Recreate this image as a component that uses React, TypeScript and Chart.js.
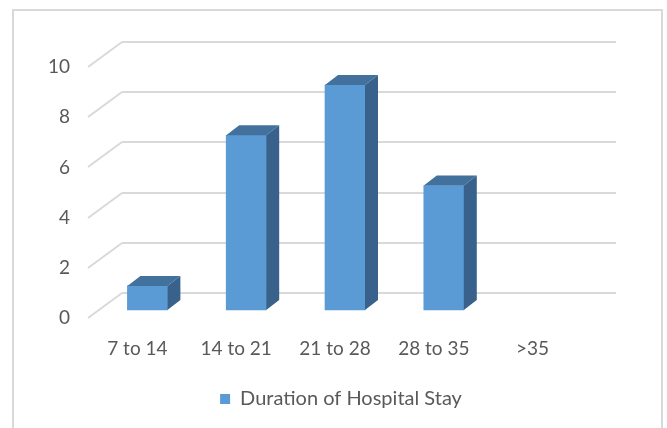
import React, { useEffect, useRef } from 'react';
import { Chart, registerables } from 'chart.js';

Chart.register(...registerables);

// ---- data ----
const categories = ['7 to 14', '14 to 21', '21 to 28', '28 to 35', '>35'];
const stayCounts = [1, 7, 9, 5, 0];
const seriesName = 'Duration of Hospital Stay';
const yMin = 0;
const yMax = 10;
const yStep = 2;

// ---- style ----
const FRONT = '#5B9BD5';
const TOP = '#41719C';
const SIDE = '#38628C';
const GRID = '#D9D9D9';
const TEXT = '#595959';
const FONT = "Lato, 'Open Sans', sans-serif";
const WALL_DX = -34;
const WALL_DY = 25;
const BAR_DX = -24;
const BAR_DY = 18;
const DEPTH_X = 13;
const DEPTH_Y = -10;

const pseudo3d = {
  id: 'pseudo3d',
  beforeDatasetsDraw(chart: any) {
    const { ctx, chartArea, scales } = chart;
    const ys = scales.y;
    ctx.save();
    ctx.strokeStyle = GRID;
    ctx.lineWidth = 2;
    ys.ticks.forEach((t: any) => {
      const py = Math.round(ys.getPixelForValue(t.value));
      ctx.beginPath();
      ctx.moveTo(chartArea.left, py);
      ctx.lineTo(chartArea.left + WALL_DX, py + WALL_DY);
      ctx.stroke();
    });
    ctx.restore();
    ctx.save();
    ctx.translate(BAR_DX, BAR_DY);
  },
  afterDatasetsDraw(chart: any) {
    const { ctx } = chart;
    ctx.restore();
    const meta = chart.getDatasetMeta(0);
    const data = chart.data.datasets[0].data;
    meta.data.forEach((bar: any, i: number) => {
      if (!data[i]) return;
      const { x, y, base, width } = bar.getProps(['x', 'y', 'base', 'width'], true);
      const l = x - width / 2 + BAR_DX;
      const r = x + width / 2 + BAR_DX;
      const t = y + BAR_DY;
      const b = base + BAR_DY;
      ctx.save();
      ctx.fillStyle = TOP;
      ctx.beginPath();
      ctx.moveTo(l, t);
      ctx.lineTo(l + DEPTH_X, t + DEPTH_Y);
      ctx.lineTo(r + DEPTH_X, t + DEPTH_Y);
      ctx.lineTo(r, t);
      ctx.closePath();
      ctx.fill();
      ctx.fillStyle = SIDE;
      ctx.beginPath();
      ctx.moveTo(r, t);
      ctx.lineTo(r + DEPTH_X, t + DEPTH_Y);
      ctx.lineTo(r + DEPTH_X, b + DEPTH_Y);
      ctx.lineTo(r, b);
      ctx.closePath();
      ctx.fill();
      ctx.restore();
    });
  },
};

export default function App() {
  const ref = useRef<HTMLCanvasElement | null>(null);

  useEffect(() => {
    if (!ref.current) return;
    const chart = new Chart(ref.current, {
      type: 'bar',
      data: {
        labels: categories,
        datasets: [
          {
            label: seriesName,
            data: stayCounts,
            backgroundColor: (c: any) => (c.raw === 0 ? 'rgba(0,0,0,0)' : FRONT),
            borderWidth: 0,
            barThickness: 40,
            clip: false as any,
          },
        ],
      },
      options: {
        animation: false,
        responsive: false,
        devicePixelRatio: 1,
        layout: { padding: { left: 15, right: 0, top: 42, bottom: 9 } },
        plugins: {
          legend: {
            position: 'bottom',
            labels: {
              boxWidth: 10,
              boxHeight: 10,
              padding: 10,
              color: TEXT,
              font: { family: FONT, size: 20 },
            },
          },
          tooltip: { enabled: false },
        },
        scales: {
          x: {
            grid: { display: false },
            border: { display: false },
            ticks: {
              labelOffset: WALL_DX,
              padding: 36,
              color: TEXT,
              font: { family: FONT, size: 19 },
              maxRotation: 0,
            },
            afterFit(s: any) {
              s.height = 86;
            },
          },
          y: {
            min: yMin,
            max: yMax,
            ticks: {
              stepSize: yStep,
              labelOffset: WALL_DY,
              padding: 52,
              color: TEXT,
              font: { family: FONT, size: 19 },
            },
            grid: { color: GRID, lineWidth: 2, drawTicks: false },
            border: { display: false },
            afterFit(s: any) {
              s.width = 107;
              s.paddingTop = 0;
              s.paddingBottom = 0;
            },
          },
          yRight: {
            position: 'right',
            display: true,
            grid: { display: false },
            border: { display: false },
            ticks: { display: false },
            afterFit(s: any) {
              s.width = 51;
              s.paddingTop = 0;
              s.paddingBottom = 0;
            },
          },
        },
      } as any,
      plugins: [pseudo3d],
    });
    return () => chart.destroy();
  }, []);

  return (
    <div
      style={{
        position: 'absolute',
        left: 0,
        top: 0,
        width: 667,
        height: 428,
        background: '#fff',
        overflow: 'hidden',
      }}
    >
      <div
        style={{
          position: 'absolute',
          left: 12,
          top: 9,
          width: 651,
          height: 500,
          boxSizing: 'border-box',
          border: `2px solid ${GRID}`,
        }}
      />
      <canvas
        ref={ref}
        width={667}
        height={428}
        style={{ position: 'absolute', left: 0, top: 0, width: 667, height: 428 }}
      />
    </div>
  );
}
